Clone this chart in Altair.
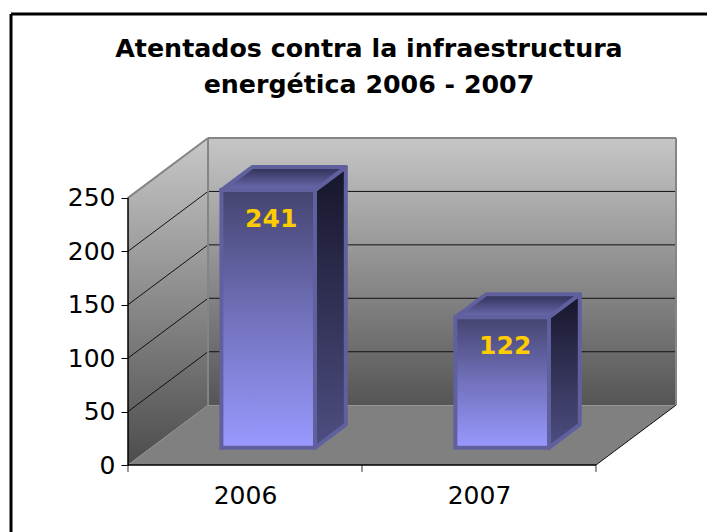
import altair as alt
import pandas as pd

TITLE = ["Atentados contra la infraestructura", "energética 2006 - 2007"]
CATEGORIES = ["2006", "2007"]
VALUES = [241, 122]
Y_TICKS = [0, 50, 100, 150, 200, 250]
GRID_VALUES = [50, 100, 150, 200]

FONT = "DejaVu Sans"
# oblique projection of the depth axis, in data units
XD = 0.342
YD = 56.0
FRONT, BACK = 0.29, 0.675
HALF = 0.2
YMAX = 250 + YD
XMAX = 2 + XD
PW, PH = 548, 327


def px(x, d=0.0):
    return x + d * XD


def py(v, d=0.0):
    return v + d * YD


def grad(*stops):
    return alt.Gradient(
        gradient="linear", x1=0, x2=0, y1=0, y2=1,
        stops=[alt.GradientStop(offset=o, color=c) for o, c in stops],
    )


xs = alt.Scale(domain=[0, XMAX], nice=False, zero=False)
ys = alt.Scale(domain=[0, YMAX], nice=False, zero=False)
label_expr = "datum.value < 1 ? '%s' : '%s'" % (CATEGORIES[0], CATEGORIES[1])
x_axis = alt.Axis(
    values=[0.5, 1.5], labelExpr=label_expr, ticks=False, domain=False, grid=False, orient="bottom",
    labelFont=FONT, labelFontSize=25, labelColor="#000000", labelPadding=18, labelFlush=False, title=None,
)
y_axis = alt.Axis(
    values=Y_TICKS, domain=False, grid=False, tickSize=7, tickColor="#000000", orient="left",
    labelFont=FONT, labelFontSize=25, labelColor="#000000", labelPadding=6, title=None,
)
X = alt.X("x:Q", scale=xs, axis=x_axis)
Y = alt.Y("y:Q", scale=ys, axis=y_axis)
X2 = alt.X2("x2:Q")
Y2 = alt.Y2("y2:Q")
GRAY = "#858585"
EDGE = "#60609e"
D = lambda rows: alt.Chart(pd.DataFrame(rows))

# walls and floor
back_wall = D([{"x": px(0, 1), "x2": px(2, 1), "y": py(0, 1), "y2": py(250, 1)}]).mark_rect(
    fill=grad((0, "#c6c6c6"), (1, "#555555"))
).encode(x=X, x2=X2, y=Y, y2=Y2)
left_wall = D([
    {"x": px(0, 0), "y": py(0, 0), "y2": py(250, 0)},
    {"x": px(0, 1), "y": py(0, 1), "y2": py(250, 1)},
]).mark_area(fill=grad((0, "#c8c8c8"), (1, "#4c4c4c"))).encode(x=X, y=Y, y2=Y2)
floor = D([
    {"y": py(0, 0), "x": px(0, 0), "x2": px(2, 0)},
    {"y": py(0, 1), "x": px(0, 1), "x2": px(2, 1)},
]).mark_area(orient="horizontal", fill="#808080").encode(y=Y, x=X, x2=X2)


def seg(x0, v0, x1, v1, kind):
    return {"x": x0, "y": v0, "kind": kind, "x2": x1, "y2": v1}


lines = []
for v in GRID_VALUES:
    lines.append(seg(px(0, 0), py(v, 0), px(0, 1), py(v, 1), "grid"))
    lines.append(seg(px(0, 1), py(v, 1), px(2, 1), py(v, 1), "grid"))
lines.append(seg(px(2, 0), py(0, 0), px(2, 1), py(0, 1), "grid"))
grid = D(lines).mark_rule(color="#111111", strokeWidth=1).encode(x=X, x2=X2, y=Y, y2=Y2)

edges = D([
    seg(px(0, 0), py(250, 0), px(0, 1), py(250, 1), "e"),
    seg(px(0, 1), py(250, 1), px(2, 1), py(250, 1), "e"),
    seg(px(0, 1), py(0, 1), px(0, 1), py(250, 1), "e"),
    seg(px(2, 1), py(0, 1), px(2, 1), py(250, 1), "e"),
]).mark_rule(color=GRAY, strokeWidth=2).encode(x=X, x2=X2, y=Y, y2=Y2)
floor_edge = D([seg(px(0, 0), py(0, 0), px(0, 1), py(0, 1), "e")]).mark_rule(
    color="#8e8e8e", strokeWidth=1
).encode(x=X, x2=X2, y=Y, y2=Y2)

# bars
side_rows, top_rows, front_rows, label_rows = [], [], [], []
for i, (c, v) in enumerate(zip(CATEGORIES, VALUES)):
    l, r = i + 0.5 - HALF, i + 0.5 + HALF
    side_rows += [
        {"bar": c, "x": px(r, FRONT), "y": py(0, FRONT), "y2": py(v, FRONT)},
        {"bar": c, "x": px(r, BACK), "y": py(0, BACK), "y2": py(v, BACK)},
    ]
    top_rows += [
        {"bar": c, "y": py(v, FRONT), "x": px(l, FRONT), "x2": px(r, FRONT)},
        {"bar": c, "y": py(v, BACK), "x": px(l, BACK), "x2": px(r, BACK)},
    ]
    front_rows.append({"x": px(l, FRONT), "x2": px(r, FRONT), "y": py(0, FRONT), "y2": py(v, FRONT)})
    label_rows.append({"x": px(i + 0.5, FRONT), "y": py(v, FRONT), "t": str(v)})

side = D(side_rows).mark_area(
    fill=grad((0, "#15152a"), (1, "#4e4e82")), stroke=EDGE, strokeWidth=4, strokeJoin="round"
).encode(x=X, y=Y, y2=Y2, detail="bar:N")
top = D(top_rows).mark_area(
    orient="horizontal", fill=grad((0, "#2f2f55"), (1, "#6c6cb2")), stroke=EDGE, strokeWidth=4, strokeJoin="round"
).encode(y=Y, x=X, x2=X2, detail="bar:N")
front = D(front_rows).mark_rect(
    fill=grad((0, "#444470"), (0.5, "#7272bd"), (1, "#9999ff")), stroke=EDGE, strokeWidth=4
).encode(x=X, x2=X2, y=Y, y2=Y2)
labels = D(label_rows).mark_text(
    font=FONT, fontSize=25, fontWeight="bold", color="#ffcc00", baseline="alphabetic", dy=37, dx=3
).encode(x=X, y=Y, text="t:N")

# axes
axis_lines = D([
    seg(0, 0, 2, 0, "a"),
    seg(0, 0, 0, 250, "a"),
]).mark_rule(color="#000000", strokeWidth=1.5).encode(x=X, x2=X2, y=Y, y2=Y2)
x_ticks = D([seg(k, 0, k, -6.5, "t") for k in range(3)]).mark_rule(color="#333333", strokeWidth=1).encode(
    x=X, x2=X2, y=Y, y2=Y2
)

# outer frame of the picture
frame_top = D([{"a": 1}]).mark_rule(color="#000000", strokeWidth=3).encode(
    x=alt.value(-117), x2=alt.value(579), y=alt.value(-124)
)
frame_left = D([{"a": 1}]).mark_rule(color="#000000", strokeWidth=3).encode(
    x=alt.value(-117), y=alt.value(-124), y2=alt.value(394)
)

chart = alt.layer(
    back_wall, left_wall, floor, grid, edges, floor_edge,
    side, top, front, labels, x_ticks, axis_lines, frame_top, frame_left,
).properties(
    width=PW, height=PH,
    autosize="none",
    background="#ffffff",
    padding={"left": 120, "top": 130, "right": 31, "bottom": 67},
    title=alt.TitleParams(
        text=TITLE, font=FONT, fontSize=25.3, fontWeight="bold", color="#000000",
        anchor="middle", dx=-33, lineHeight=36, offset=-86,
    ),
).configure_view(stroke=None)

chart.save("out.html", embed_options={"renderer": "svg", "actions": False})
